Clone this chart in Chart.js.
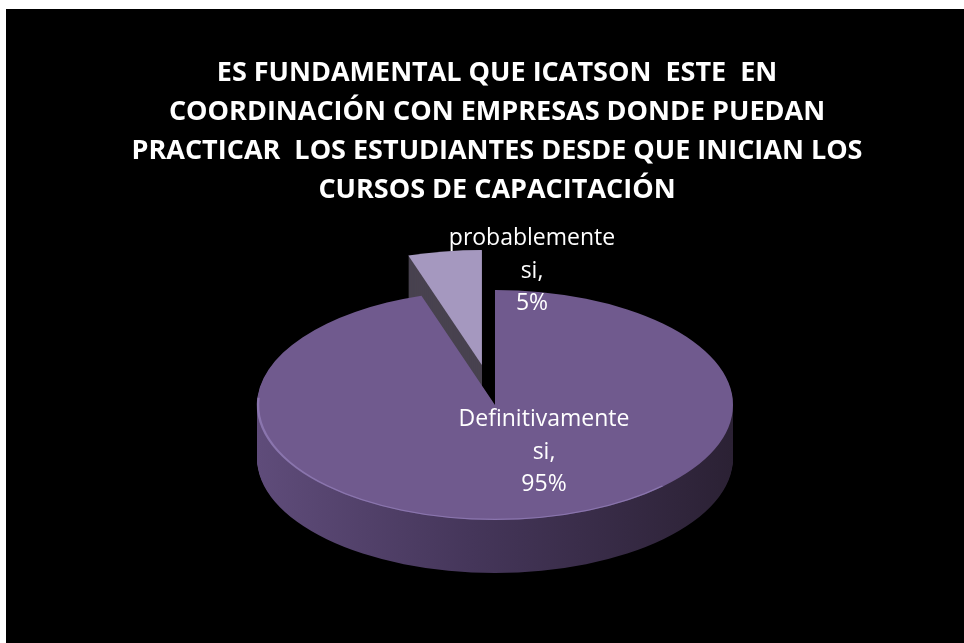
<!DOCTYPE html>
<html>
<head>
<meta charset="utf-8">
<script src="https://cdn.jsdelivr.net/npm/chart.js@4/dist/chart.umd.min.js"></script>
<style>
  html, body { margin: 0; padding: 0; background: #fff; }
  #wrap { position: absolute; left: 6px; top: 9px; width: 958px; height: 634px; background: #000; }
</style>
</head>
<body>
<div id="wrap"><canvas id="pieChart"></canvas></div>
<script>
document.addEventListener("DOMContentLoaded", () => {
  // data
  const categories = ["Definitivamente si", "probablemente si"];
  const percents = [95, 5];
  const titleLines = [
    "ES FUNDAMENTAL QUE ICATSON  ESTE  EN",
    "COORDINACIÓN CON EMPRESAS DONDE PUEDAN",
    "PRACTICAR  LOS ESTUDIANTES DESDE QUE INICIAN LOS",
    "CURSOS DE CAPACITACIÓN"
  ];

  // look of the fake 3d pie
  const topColors = ["#705a8e", "#a598bf"];
  const sideColors = [null, "#48424f"];  // null -> gradient
  const explode = [0, 84];                // push-out along mid angle (circle px)
  const CX = 489, CY = 396;               // where the pie centre lands on the canvas
  const TILT = 0.483;                     // vertical squash
  const DEPTH = 53;
  const labelPos = [[538, 443], [526, 262]];

  function slicePath(ctx, arc) {
    ctx.beginPath();
    ctx.moveTo(arc.x, arc.y);
    ctx.arc(arc.x, arc.y, arc.outerRadius, arc.startAngle, arc.endAngle);
    ctx.closePath();
  }

  const pie3d = {
    id: "pie3d",
    beforeDatasetsDraw(chart) {
      const ctx = chart.ctx;
      const arcs = chart.getDatasetMeta(0).data;
      // back slices first
      const order = arcs.map((a, i) => i).sort((a, b) => {
        const ma = (arcs[a].startAngle + arcs[a].endAngle) / 2;
        const mb = (arcs[b].startAngle + arcs[b].endAngle) / 2;
        return Math.sin(ma) - Math.sin(mb);
      });

      order.forEach(i => {
        const arc = arcs[i];
        const mid = (arc.startAngle + arc.endAngle) / 2;
        const ex = Math.cos(mid) * explode[i];
        const ey = Math.sin(mid) * explode[i];
        const R = arc.outerRadius;

        // side wall
        for (let j = DEPTH; j >= 1; j--) {
          ctx.save();
          ctx.translate(CX, CY + j);
          ctx.scale(1, TILT);
          ctx.translate(-arc.x + ex, -arc.y + ey);
          if (sideColors[i]) {
            ctx.fillStyle = sideColors[i];
          } else {
            const g = ctx.createLinearGradient(arc.x - R, 0, arc.x + R, 0);
            g.addColorStop(0, "#5f4c7a");
            g.addColorStop(0.45, "#45365a");
            g.addColorStop(1, "#2b2134");
            ctx.fillStyle = g;
          }
          slicePath(ctx, arc);
          ctx.fill();
          ctx.restore();
        }

        // top face
        ctx.save();
        ctx.translate(CX, CY);
        ctx.scale(1, TILT);
        ctx.translate(-arc.x + ex, -arc.y + ey);
        ctx.fillStyle = topColors[i];
        slicePath(ctx, arc);
        ctx.fill();
        if (i === 0) {
          // soft light rim on the front edge
          ctx.beginPath();
          ctx.arc(arc.x, arc.y, R - 1, Math.PI * 0.25, Math.PI * 1.02);
          ctx.strokeStyle = "rgba(160,140,200,0.55)";
          ctx.lineWidth = 2.5;
          ctx.stroke();
        }
        ctx.restore();
      });

      // data labels
      ctx.save();
      ctx.fillStyle = "#ffffff";
      ctx.font = "23px 'Open Sans', sans-serif";
      ctx.textAlign = "center";
      ctx.textBaseline = "middle";
      arcs.forEach((arc, i) => {
        const words = categories[i].split(" ");
        const lines = [words.slice(0, -1).join(" "), words[words.length - 1] + ",", percents[i] + "%"];
        const [lx, ly] = labelPos[i];
        lines.forEach((t, k) => ctx.fillText(t, lx, ly + (k - 1) * 32.5));
      });
      ctx.restore();
      return false;
    }
  };

  new Chart(document.getElementById("pieChart"), {
    type: "pie",
    data: {
      labels: categories,
      datasets: [{
        data: percents,
        backgroundColor: topColors,
        borderWidth: 0
      }]
    },
    options: {
      responsive: true,
      maintainAspectRatio: false,
      animation: false,
      radius: 238,
      events: [],
      layout: { padding: { left: 24 } },
      plugins: {
        legend: { display: false },
        tooltip: { enabled: false },
        title: {
          display: true,
          text: titleLines,
          color: "#ffffff",
          padding: { top: 45, bottom: 10 },
          font: { family: "'Open Sans', sans-serif", size: 27, weight: "bold", lineHeight: 1.445 }
        }
      }
    },
    plugins: [pie3d]
  });
});
</script>
</body>
</html>
